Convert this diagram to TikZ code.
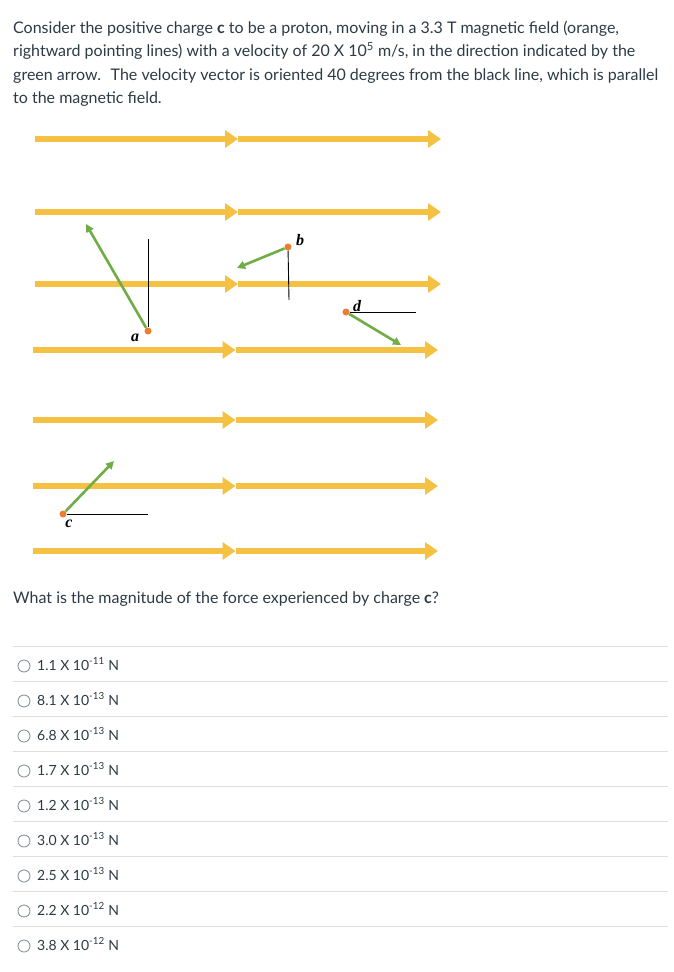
\documentclass[tikz,border=0pt]{standalone}
\usepackage{fontspec}
\setmainfont{Lato}
\newfontfamily\labelfont{Liberation Serif}
\usetikzlibrary{arrows.meta}
\definecolor{fieldyellow}{HTML}{F4C142}
\definecolor{velgreen}{HTML}{70AD47}
\definecolor{chargeorange}{HTML}{ED7D31}
\definecolor{canvastext}{HTML}{2D3B45}
\definecolor{rulegray}{HTML}{DDDDDD}
\definecolor{radiogray}{HTML}{8B969E}

\begin{document}
\begin{tikzpicture}[x=1pt,y=-1pt,
	field/.style={draw=fieldyellow,line width=6pt,-{Triangle[length=13pt,width=17pt]}},
	velocity/.style={draw=velgreen,line width=2.6pt,-{Triangle[length=8pt,width=8pt]}},
	refline/.style={draw=black,line width=0.9pt},
	charge/.style={circle,fill=chargeorange,inner sep=0pt,minimum size=7pt},
	chargelabel/.style={inner sep=0pt,font=\labelfont\bfseries\itshape\fontsize{16}{16}\selectfont},
	bodytext/.style={anchor=base west,inner sep=0pt,text=canvastext,font=\fontsize{16}{24}\selectfont},
	answer/.style={anchor=base west,inner sep=0pt,text=canvastext,font=\fontsize{14}{16}\selectfont},
	radio/.style={draw=radiogray,line width=0.9pt}]
	\fill[white] (0,0) rectangle (674,972);
	\useasboundingbox (0,0) rectangle (674,972);
	
	% question text
	\node[bodytext] (line1) at (13,33) {Consider the positive charge \textbf{c} to be a proton, moving in a 3.3 T magnetic field (orange,};
	\node[bodytext] (line2) at (13,56.5) {rightward pointing lines) with a velocity of 20 X 10\textsuperscript{5} m/s, in the direction indicated by the};
	\node[bodytext] (line3) at (13,80) {green arrow.~ The velocity vector is oriented 40 degrees from the black line, which is parallel};
	\node[bodytext] (line4) at (13,103.5) {to the magnetic field.};
	
	% magnetic field lines
	\foreach \y/\xa/\xb in {139/35/441,212/35/441,284/35/441,350/33/438,420/33/438,486/33/438,551/33/438}
	{
		\draw[field] (\xa,\y) -- ({(\xa+\xb)/2},\y);
		\draw[field] ({(\xa+\xb)/2},\y) -- (\xb,\y);
	}
	
	% charges
	\node[charge] (a) at (148,331) {};
	\coordinate (a-ref) at (148,239);
	\coordinate (a-vel) at (86,224);
	\draw[refline] (a) -- (a-ref);
	\draw[velocity] (a) -- (a-vel);
	\node[chargelabel] (a-label) at (135,338) {a};
	
	\node[charge] (b) at (288,247) {};
	\coordinate (b-ref) at (289,300);
	\coordinate (b-vel) at (237,268);
	\draw[refline] (b) -- (b-ref);
	\draw[velocity] (b) -- (b-vel);
	\node[chargelabel] (b-label) at (300,240) {b};
	
	\node[charge] (d) at (346,312) {};
	\coordinate (d-ref) at (416,312);
	\coordinate (d-vel) at (401,345);
	\draw[refline] (d) -- (d-ref);
	\draw[velocity] (d) -- (d-vel);
	\node[chargelabel] (d-label) at (357,306) {d};
	
	\node[charge] (c) at (63,514) {};
	\coordinate (c-ref) at (148,514);
	\coordinate (c-vel) at (114,461);
	\draw[refline] (c) -- (c-ref);
	\draw[velocity] (c) -- (c-vel);
	\node[chargelabel] (c-label) at (69,524) {c};
	
	\node[bodytext] (question) at (13,603) {What is the magnitude of the force experienced by charge \textbf{c}?};
	
	% answers
	\foreach \m/\e [count=\k from 0] in {1.1/11,8.1/13,6.8/13,1.7/13,1.2/13,3.0/13,2.5/13,2.2/12,3.8/12}
	{
		\draw[rulegray,line width=1pt] (13,646+35*\k) -- (668,646+35*\k);
		\node[radio,circle,minimum size=12pt,inner sep=0pt] (radio\k) at (24,666+35*\k) {};
		\node[answer] (answer\k) at (37,670+35*\k) {\m\ X 10\textsuperscript{-\e} N};
	}
\end{tikzpicture}
\end{document}
